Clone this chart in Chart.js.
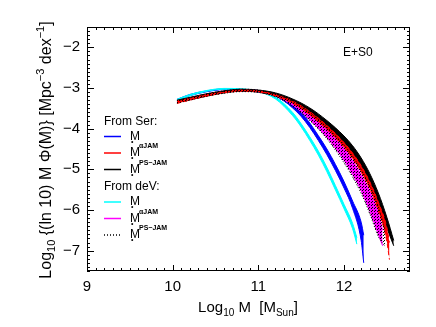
<!DOCTYPE html>
<html>
<head>
<meta charset="utf-8">
<script src="https://cdn.jsdelivr.net/npm/chart.js@4.4.1/dist/chart.umd.min.js"></script>
<style>
html, body { margin: 0; padding: 0; background: #fff; }
#wrap { width: 436px; height: 327px; }
</style>
</head>
<body>
<div id="wrap"><canvas id="massChart" width="436" height="327"></canvas></div>
<script>
const xTicks = [9, 10, 11, 12];
const yTicks = [-7, -6, -5, -4, -3, -2];
const panelLabel = 'E+S0';

// log10 M grid and band edges (upper / lower) for each estimate
const serStarMass = [10.05, 10.2, 10.4, 10.6, 10.8, 11.0, 11.2, 11.3, 11.4, 11.5, 11.6, 11.7, 11.8, 11.9, 12.0, 12.1, 12.2, 12.23];
const serStarHi   = [-3.28, -3.16, -3.07, -3.02, -3.03, -3.07, -3.16, -3.26, -3.41, -3.60, -3.86, -4.17, -4.50, -4.88, -5.30, -5.78, -6.30, -6.62];
const serStarLo   = [-3.31, -3.19, -3.09, -3.04, -3.05, -3.10, -3.20, -3.32, -3.49, -3.70, -3.97, -4.29, -4.64, -5.03, -5.46, -5.96, -6.75, -7.30];

const devStarMass = [10.05, 10.2, 10.4, 10.6, 10.8, 11.0, 11.2, 11.4, 11.5, 11.6, 11.7, 11.8, 11.9, 12.0, 12.1, 12.15];
const devStarHi   = [-3.28, -3.16, -3.06, -3.01, -3.02, -3.07, -3.22, -3.60, -3.88, -4.20, -4.55, -4.95, -5.40, -5.86, -6.33, -6.68];
const devStarLo   = [-3.31, -3.19, -3.08, -3.03, -3.04, -3.09, -3.27, -3.68, -3.96, -4.29, -4.65, -5.06, -5.51, -5.97, -6.46, -6.84];

const serPsMass = [10.05, 10.2, 10.4, 10.6, 10.8, 11.0, 11.2, 11.4, 11.6, 11.8, 12.0, 12.1, 12.2, 12.3, 12.4, 12.5, 12.58];
const serPsHi   = [-3.30, -3.23, -3.14, -3.07, -3.03, -3.05, -3.12, -3.27, -3.49, -3.80, -4.18, -4.42, -4.72, -5.10, -5.58, -6.18, -6.75];
const serPsLo   = [-3.36, -3.29, -3.20, -3.12, -3.08, -3.10, -3.19, -3.35, -3.60, -3.94, -4.35, -4.61, -4.92, -5.31, -5.82, -6.44, -6.88];

const serAjMass = [10.05, 10.2, 10.4, 10.6, 10.8, 11.0, 11.2, 11.4, 11.6, 11.8, 12.0, 12.1, 12.2, 12.3, 12.4, 12.5, 12.53];
const serAjHi   = [-3.32, -3.25, -3.16, -3.09, -3.05, -3.07, -3.16, -3.32, -3.58, -3.92, -4.34, -4.60, -4.91, -5.30, -5.80, -6.43, -6.80];
const serAjLo   = [-3.38, -3.30, -3.20, -3.12, -3.08, -3.10, -3.20, -3.38, -3.66, -4.02, -4.46, -4.74, -5.07, -5.48, -6.02, -6.78, -7.22];

const devAjMass = [10.05, 10.2, 10.4, 10.6, 10.8, 11.0, 11.2, 11.4, 11.6, 11.8, 12.0, 12.1, 12.2, 12.3, 12.4, 12.45];
const devAjHi   = [-3.32, -3.25, -3.15, -3.08, -3.04, -3.06, -3.16, -3.34, -3.62, -4.00, -4.48, -4.78, -5.13, -5.54, -6.06, -6.50];
const devAjLo   = [-3.36, -3.28, -3.19, -3.11, -3.07, -3.09, -3.20, -3.42, -3.78, -4.22, -4.78, -5.13, -5.53, -6.03, -6.60, -6.88];

const devPsMass = [10.05, 10.2, 10.4, 10.6, 10.8, 11.0, 11.2, 11.4, 11.6, 11.8, 12.0, 12.1, 12.2, 12.3, 12.4, 12.48];
const devPsHi   = [-3.31, -3.24, -3.14, -3.07, -3.03, -3.05, -3.15, -3.33, -3.60, -3.96, -4.40, -4.68, -5.01, -5.40, -5.92, -6.50];
const devPsLo   = [-3.37, -3.30, -3.20, -3.13, -3.09, -3.11, -3.22, -3.45, -3.80, -4.25, -4.84, -5.19, -5.59, -6.09, -6.65, -6.90];

const legendHeads = ['From Ser:', 'From deV:'];
const legendSups = ['', '\u03b1JAM', 'PS\u2212JAM'];

const FONT = '"Liberation Sans", Arial, sans-serif';

const canvas = document.getElementById('massChart');
const ctx0 = canvas.getContext('2d');

// stipple for the dotted deV PS-JAM band
const dotTile = document.createElement('canvas');
dotTile.width = 3; dotTile.height = 3;
const dtx = dotTile.getContext('2d');
dtx.fillStyle = '#000';
dtx.fillRect(0, 0, 1, 1);
dtx.fillRect(2, 1, 1, 1);
const dotPattern = ctx0.createPattern(dotTile, 'repeat');

function band(mass, hi, lo, color, fillColor, order, dash) {
    const top = {
        data: mass.map((m, i) => ({ x: m, y: hi[i] })),
        borderColor: color, borderWidth: 1, borderDash: dash || [],
        pointRadius: 0, fill: false, order: order,
        cubicInterpolationMode: 'monotone'
    };
    const bottom = {
        data: mass.map((m, i) => ({ x: m, y: lo[i] })),
        borderColor: color, borderWidth: 1, borderDash: dash || [],
        pointRadius: 0, fill: '-1', backgroundColor: fillColor, order: order,
        cubicInterpolationMode: 'monotone'
    };
    return [top, bottom];
}

const datasets = [].concat(
    band(serStarMass, serStarHi, serStarLo, '#0000ff', '#0000ff', 6),
    band(devStarMass, devStarHi, devStarLo, '#00ffff', '#00ffff', 5),
    band(devAjMass, devAjHi, devAjLo, '#ff00ff', '#ff00ff', 4),
    band(serPsMass, serPsHi, serPsLo, '#000000', '#000000', 3),
    band(serAjMass, serAjHi, serAjLo, '#ff0000', '#ff0000', 2, [4, 3]),
    band(devPsMass, devPsHi, devPsLo, '#000000', dotPattern, 1, [1, 2])
);

function drawRich(ctx, parts, x, y, align) {
    let w = 0;
    parts.forEach(p => { ctx.font = p[1] + 'px ' + FONT; w += ctx.measureText(p[0]).width; });
    let cx = align === 'center' ? x - w / 2 : x;
    parts.forEach(p => {
        ctx.font = p[1] + 'px ' + FONT;
        ctx.fillText(p[0], cx, y + p[2]);
        cx += ctx.measureText(p[0]).width;
    });
}

const decorations = {
    id: 'decorations',
    afterDraw(chart) {
        const ctx = chart.ctx;
        const a = chart.chartArea;
        const xs = chart.scales.x, ys = chart.scales.y;
        ctx.save();
        ctx.strokeStyle = '#000';
        ctx.lineWidth = 1;
        ctx.strokeRect(a.left + 0.5, a.top + 0.5, a.right - a.left - 1, a.bottom - a.top - 1);

        // inward ticks on all four sides
        ctx.beginPath();
        for (let k = 90; k <= 127; k++) {
            const px = Math.round(xs.getPixelForValue(k / 10)) + 0.5;
            const len = k % 10 === 0 ? 6 : 3;
            ctx.moveTo(px, a.bottom); ctx.lineTo(px, a.bottom - len);
            ctx.moveTo(px, a.top); ctx.lineTo(px, a.top + len);
        }
        for (let k = -75; k <= -15; k++) {
            const py = Math.round(ys.getPixelForValue(k / 10)) + 0.5;
            const len = k % 10 === 0 ? 7 : 3;
            ctx.moveTo(a.left, py); ctx.lineTo(a.left + len, py);
            ctx.moveTo(a.right, py); ctx.lineTo(a.right - len, py);
        }
        ctx.stroke();

        ctx.fillStyle = '#000';
        ctx.textBaseline = 'alphabetic';

        // x title
        drawRich(ctx, [['Log', 15, 0], ['10', 10, 4], [' M  [M', 15, 0], ['Sun', 10, 4], [']', 15, 0]], 248, 312, 'center');

        // y title
        ctx.save();
        ctx.translate(51, 150);
        ctx.rotate(-Math.PI / 2);
        drawRich(ctx, [['Log', 16, 0], ['10', 11, 4], [' {(ln 10) M \u03a6(M)} [Mpc', 16, 0], ['\u22123', 11, -7],
            [' dex', 16, 0], ['\u22121', 11, -7], [']', 16, 0]], 0, 0, 'center');
        ctx.restore();

        // panel label
        ctx.font = '12px ' + FONT;
        ctx.fillText(panelLabel, 343, 56);

        // legend
        const rows = [
            { base: 139.5, color: '#0000ff', dash: [] },
            { base: 156, color: '#ff0000', dash: [] },
            { base: 172.5, color: '#000000', dash: [] },
            { base: 205, color: '#00ffff', dash: [] },
            { base: 221.5, color: '#ff00ff', dash: [] },
            { base: 238, color: '#000000', dash: [1, 2] }
        ];
        ctx.font = '12px ' + FONT;
        ctx.fillText(legendHeads[0], 104, 125);
        ctx.fillText(legendHeads[1], 104, 190);
        rows.forEach((r, i) => {
            ctx.beginPath();
            ctx.strokeStyle = r.color;
            ctx.lineWidth = 1.5;
            ctx.setLineDash(r.dash);
            ctx.moveTo(104, r.base - 3);
            ctx.lineTo(121, r.base - 3);
            ctx.stroke();
            ctx.setLineDash([]);
            ctx.fillStyle = '#000';
            ctx.font = '12px ' + FONT;
            ctx.fillText('M', 130, r.base);
            ctx.font = '7px ' + FONT;
            ctx.fillText('\u2022', 131, r.base + 4);
            ctx.font = 'bold 7px ' + FONT;
            ctx.fillText(legendSups[i % 3], 139, r.base - 8);
        });
        ctx.restore();
    }
};

const config = {
    type: 'line',
    data: { datasets: datasets },
    options: {
        responsive: false,
        animation: false,
        devicePixelRatio: 1,
        layout: { padding: { top: 27, right: 26, left: 0, bottom: 0 } },
        plugins: { legend: { display: false }, tooltip: { enabled: false } },
        scales: {
            x: {
                type: 'linear', min: 9, max: 12.77,
                afterBuildTicks: s => { s.ticks = xTicks.map(v => ({ value: v })); },
                afterFit: s => { s.height = 56; },
                grid: { display: false, drawTicks: false },
                border: { display: false },
                ticks: { color: '#000', padding: 7, maxRotation: 0, font: { family: FONT, size: 15 } }
            },
            y: {
                type: 'linear', min: -7.5, max: -1.5,
                afterBuildTicks: s => { s.ticks = yTicks.map(v => ({ value: v })); },
                afterFit: s => { s.width = 87; },
                grid: { display: false, drawTicks: false },
                border: { display: false },
                ticks: { color: '#000', padding: 7, font: { family: FONT, size: 15 },
                    callback: v => '\u2212' + Math.abs(v) }
            }
        }
    },
    plugins: [decorations]
};

const myChart = new Chart(canvas, config);
</script>
</body>
</html>
